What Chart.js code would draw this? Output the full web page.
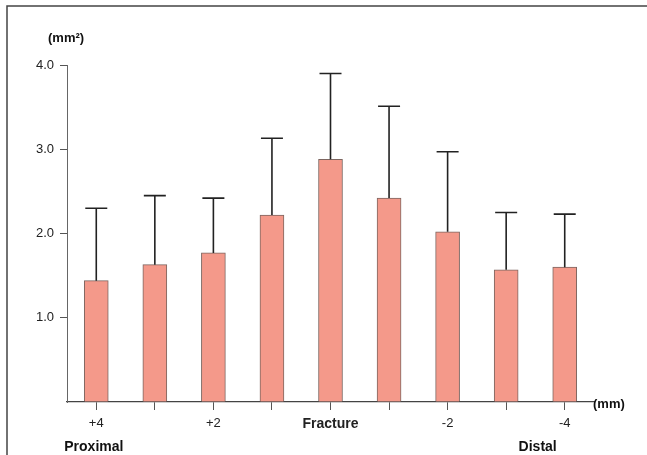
<!DOCTYPE html>
<html>
<head>
<meta charset="utf-8">
<script src="https://cdn.jsdelivr.net/npm/chart.js@4.4.1/dist/chart.umd.min.js"></script>
<style>
  html, body { margin: 0; padding: 0; background: #fff; }
  #wrap { width: 647px; height: 455px; position: relative; }
</style>
</head>
<body>
<div id="wrap"><canvas id="chart"></canvas></div>
<script>
// positions along the bone (mm from fracture site)
const positions = ['+4', '+3', '+2', '+1', 'Fracture', '-1', '-2', '-3', '-4'];
const tickLabels = ['+4', '', '+2', '', 'Fracture', '', '-2', '', '-4'];
// mean area (mm²) and standard deviation
const means = [1.44, 1.63, 1.77, 2.22, 2.88, 2.42, 2.02, 1.57, 1.60];
const sds = [0.86, 0.82, 0.65, 0.91, 1.02, 1.09, 0.95, 0.68, 0.63];
const yTicks = [1, 2, 3, 4];

const FONT = "'Liberation Sans', Arial, Helvetica, sans-serif";

const errorBars = {
    id: 'errorBars',
    afterDatasetsDraw(chart) {
        const ctx = chart.ctx;
        const y = chart.scales.y;
        const meta = chart.getDatasetMeta(0);
        ctx.save();
        ctx.strokeStyle = '#222';
        ctx.lineWidth = 1.6;
        meta.data.forEach((bar, i) => {
            const yBar = y.getPixelForValue(means[i]);
            const yTop = y.getPixelForValue(means[i] + sds[i]);
            ctx.beginPath();
            ctx.moveTo(bar.x, yBar);
            ctx.lineTo(bar.x, yTop);
            ctx.moveTo(bar.x - 11, yTop);
            ctx.lineTo(bar.x + 11, yTop);
            ctx.stroke();
        });
        ctx.restore();
    }
};

const extras = {
    id: 'extras',
    afterDraw(chart) {
        const ctx = chart.ctx;
        const x = chart.scales.x;
        const area = chart.chartArea;
        ctx.save();
        // frame
        ctx.strokeStyle = '#444';
        ctx.lineWidth = 1.5;
        ctx.beginPath();
        ctx.moveTo(7, 455);
        ctx.lineTo(7, 6);
        ctx.lineTo(647, 6);
        ctx.stroke();
        // labels
        ctx.fillStyle = '#111';
        ctx.font = 'bold 13px ' + FONT;
        ctx.textBaseline = 'middle';
        ctx.textAlign = 'left';
        ctx.fillText('(mm²)', 48, 38);
        ctx.fillText('(mm)', area.right - 1, area.bottom + 2);
        ctx.font = 'bold 14px ' + FONT;
        ctx.fillText('Proximal', x.getPixelForValue(0) - 32, 447);
        ctx.textAlign = 'right';
        ctx.fillText('Distal', x.getPixelForValue(8) - 8, 447);
        ctx.restore();
    }
};

new Chart(document.getElementById('chart'), {
    type: 'bar',
    data: {
        labels: positions,
        datasets: [{
            data: means,
            backgroundColor: '#f4998a',
            borderColor: '#7d6660',
            borderWidth: 1,
            barThickness: 24
        }]
    },
    options: {
        responsive: true,
        maintainAspectRatio: false,
        animation: false,
        layout: { padding: { top: 65, right: 53, left: 0, bottom: 0 } },
        plugins: {
            legend: { display: false },
            tooltip: { enabled: false }
        },
        scales: {
            x: {
                afterFit: s => { s.height = 53; },
                grid: {
                    offset: false,
                    drawOnChartArea: false,
                    tickLength: 8,
                    color: '#555'
                },
                border: { display: true, color: '#444', width: 1.3 },
                ticks: {
                    autoSkip: false,
                    maxRotation: 0,
                    padding: 6,
                    color: '#222',
                    callback: (v, i) => tickLabels[i],
                    font: c => c.index === 4
                        ? { family: FONT, size: 14, weight: 'bold' }
                        : { family: FONT, size: 13 }
                }
            },
            y: {
                min: 0,
                max: 4,
                afterFit: s => { s.width = 67; },
                afterBuildTicks: s => { s.ticks = [0].concat(yTicks).map(v => ({ value: v })); },
                grid: {
                    drawOnChartArea: false,
                    tickLength: 7,
                    color: c => c.tick && c.tick.value === 0 ? 'rgba(0,0,0,0)' : '#555'
                },
                border: { display: true, color: '#666', width: 1 },
                ticks: {
                    padding: 6,
                    color: '#222',
                    font: { family: FONT, size: 13 },
                    callback: v => v === 0 ? '' : v.toFixed(1)
                }
            }
        }
    },
    plugins: [errorBars, extras]
});
</script>
</body>
</html>
